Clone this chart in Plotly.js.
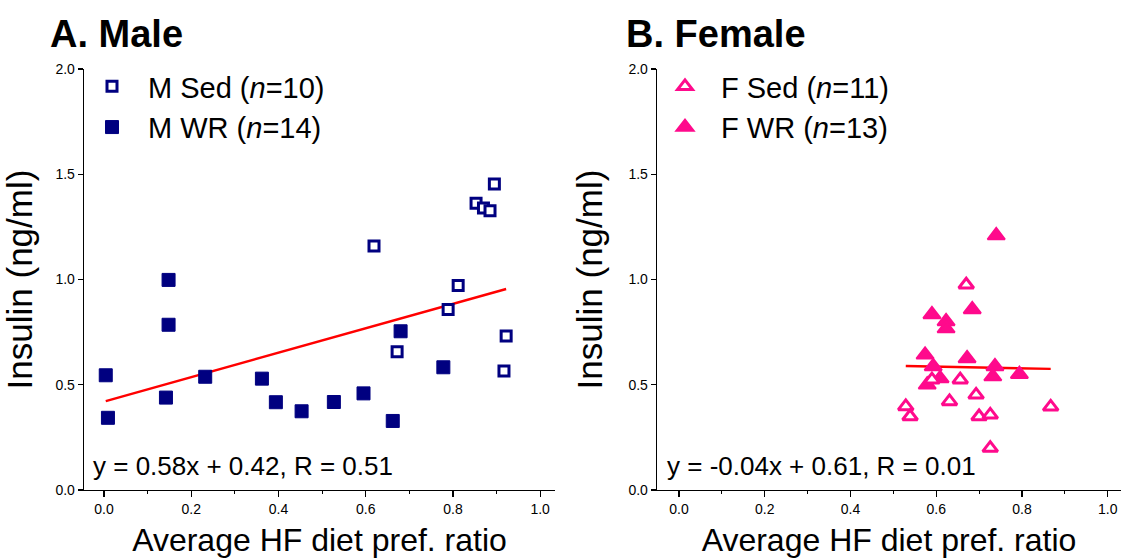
<!DOCTYPE html>
<html>
<head>
<meta charset="utf-8">
<script src="https://cdn.plot.ly/plotly-3.0.1.min.js"></script>
<style>html,body{margin:0;padding:0;background:#fff;}#chart{width:1124px;height:559px;}</style>
</head>
<body>
<div id="chart"></div>
<script>
// ---- Data ----
const mSedX = [0.619, 0.672, 0.789, 0.812, 0.853, 0.870, 0.885, 0.895, 0.922, 0.917];
const mSedY = [1.159, 0.657, 0.857, 0.972, 1.362, 1.340, 1.327, 1.454, 0.732, 0.565];
const mWrX = [0.004, 0.009, 0.148, 0.148, 0.142, 0.232, 0.362, 0.394, 0.453, 0.527, 0.595, 0.662, 0.680, 0.778];
const mWrY = [0.545, 0.343, 0.998, 0.785, 0.439, 0.538, 0.529, 0.417, 0.374, 0.418, 0.459, 0.328, 0.754, 0.583];
const fSedX = [0.670, 0.656, 0.693, 0.631, 0.529, 0.539, 0.700, 0.726, 0.867, 0.726, 0.590];
const fSedY = [0.975, 0.524, 0.452, 0.421, 0.397, 0.349, 0.349, 0.357, 0.395, 0.199, 0.524];
const fWrX = [0.740, 0.590, 0.623, 0.623, 0.684, 0.574, 0.672, 0.737, 0.794, 0.732, 0.609, 0.579, 0.593];
const fWrY = [1.209, 0.834, 0.801, 0.767, 0.858, 0.642, 0.625, 0.587, 0.550, 0.539, 0.530, 0.500, 0.587];
const maleFit = {slope: 0.58, intercept: 0.42, r: 0.51};
const femaleFit = {slope: -0.04, intercept: 0.61, r: 0.01};
const legendNames = ['M Sed (<i>n</i>=10)', 'M WR (<i>n</i>=14)', 'F Sed (<i>n</i>=11)', 'F WR (<i>n</i>=13)'];
const panelTitles = ['A. Male', 'B. Female'];
const xTitle = 'Average HF diet pref. ratio';
const yTitle = 'Insulin (ng/ml)';

// ---- Helpers ----
function fitLine(xs, fit) {
  const lo = Math.min(...xs), hi = Math.max(...xs);
  return {x: [lo, hi], y: [fit.slope * lo + fit.intercept, fit.slope * hi + fit.intercept]};
}
function eqText(fit) {
  const s = fit.slope.toFixed(2), b = fit.intercept.toFixed(2), r = fit.r.toFixed(2);
  return 'y = ' + s + 'x + ' + b + ', R = ' + r;
}

const NAVY = '#000080', PINK = '#FF0A8C', RED = '#FF0000';
const FONT = 'Liberation Sans, Arial, Helvetica, sans-serif';

const mLine = fitLine(mSedX.concat(mWrX), maleFit);
const fLine = fitLine(fSedX.concat(fWrX), femaleFit);

const traces = [
  {x: mLine.x, y: mLine.y, mode: 'lines', line: {color: RED, width: 2.4}, showlegend: false, xaxis: 'x', yaxis: 'y', hoverinfo: 'skip'},
  {x: mWrX, y: mWrY, mode: 'markers', name: legendNames[1], legend: 'legend', legendrank: 2,
   marker: {symbol: 'square', size: 13, color: NAVY, line: {color: NAVY, width: 1}}, xaxis: 'x', yaxis: 'y'},
  {x: mSedX, y: mSedY, mode: 'markers', name: legendNames[0], legend: 'legend', legendrank: 1,
   marker: {symbol: 'square', size: 10, color: '#ffffff', line: {color: NAVY, width: 3}}, xaxis: 'x', yaxis: 'y'},
  {x: fLine.x, y: fLine.y, mode: 'lines', line: {color: RED, width: 2.4}, showlegend: false, xaxis: 'x2', yaxis: 'y2', hoverinfo: 'skip'},
  {x: fWrX, y: fWrY, mode: 'markers', name: legendNames[3], legend: 'legend2', legendrank: 2,
   marker: {symbol: 'triangle-up', size: 15, color: PINK, line: {color: PINK, width: 2}}, xaxis: 'x2', yaxis: 'y2'},
  {x: fSedX, y: fSedY, mode: 'markers', name: legendNames[2], legend: 'legend2', legendrank: 1,
   marker: {symbol: 'triangle-up', size: 13, color: '#ffffff', line: {color: PINK, width: 3}}, xaxis: 'x2', yaxis: 'y2'}
];

function xAxis(domain, range, anchor) {
  return {
    domain: domain, range: range, anchor: anchor,
    showline: true, linecolor: '#000', linewidth: 1.3, mirror: false,
    showgrid: false, zeroline: false,
    ticks: 'outside', ticklen: 6, tickwidth: 1.3, tickcolor: '#000',
    tick0: 0, dtick: 0.2, tickformat: '.1f',
    minor: {ticks: 'outside', ticklen: 3, tickwidth: 1, tickcolor: '#000', dtick: 0.1, showgrid: false},
    tickfont: {family: FONT, size: 14, color: '#000'},
    title: {text: xTitle, font: {family: FONT, size: 32, color: '#000'}, standoff: 12},
    automargin: false
  };
}
function yAxis(domain, anchor) {
  return {
    domain: domain, range: [0, 2], anchor: anchor,
    showline: true, linecolor: '#000', linewidth: 1.3, mirror: false,
    showgrid: false, zeroline: false,
    ticks: 'outside', ticklen: 5, tickwidth: 1.3, tickcolor: '#000',
    tick0: 0, dtick: 0.5, tickformat: '.1f',
    tickfont: {family: FONT, size: 14, color: '#000'},
    title: {text: yTitle, font: {family: FONT, size: 35, color: '#000'}, standoff: 15},
    automargin: false
  };
}

const yDom = [(559 - 490) / 559, (559 - 69) / 559];
const layout = {
  width: 1124, height: 559,
  margin: {l: 0, r: 0, t: 0, b: 0},
  paper_bgcolor: '#fff', plot_bgcolor: '#fff',
  font: {family: FONT, color: '#000'},
  xaxis: xAxis([84 / 1124, 555 / 1124], [-0.0459, 1.034], 'y'),
  yaxis: yAxis(yDom, 'x'),
  xaxis2: xAxis([657 / 1124, 1121 / 1124], [-0.0513, 1.031], 'y2'),
  yaxis2: yAxis(yDom, 'x2'),
  legend: {x: 76 / 1124, y: (559 - 61) / 559, xanchor: 'left', yanchor: 'top', bgcolor: 'rgba(0,0,0,0)',
           font: {family: FONT, size: 29, color: '#000'}, itemwidth: 62, tracegroupgap: 0, traceorder: 'normal'},
  legend2: {x: 649 / 1124, y: (559 - 61) / 559, xanchor: 'left', yanchor: 'top', bgcolor: 'rgba(0,0,0,0)',
           font: {family: FONT, size: 29, color: '#000'}, itemwidth: 62, tracegroupgap: 0, traceorder: 'normal'},
  annotations: [
    {text: '<b>' + panelTitles[0] + '</b>', xref: 'paper', yref: 'paper', x: 48 / 1124, y: (559 - 34) / 559,
     xanchor: 'left', yanchor: 'middle', showarrow: false, font: {family: FONT, size: 38, color: '#000'}},
    {text: '<b>' + panelTitles[1] + '</b>', xref: 'paper', yref: 'paper', x: 624 / 1124, y: (559 - 34) / 559,
     xanchor: 'left', yanchor: 'middle', showarrow: false, font: {family: FONT, size: 38, color: '#000'}},
    {text: eqText(maleFit), xref: 'paper', yref: 'paper', x: 91 / 1124, y: (559 - 466) / 559,
     xanchor: 'left', yanchor: 'middle', showarrow: false, font: {family: FONT, size: 26, color: '#000'}},
    {text: eqText(femaleFit), xref: 'paper', yref: 'paper', x: 665 / 1124, y: (559 - 466) / 559,
     xanchor: 'left', yanchor: 'middle', showarrow: false, font: {family: FONT, size: 26, color: '#000'}}
  ],
  showlegend: true
};

Plotly.newPlot('chart', traces, layout, {staticPlot: true, displayModeBar: false});
</script>
</body>
</html>
